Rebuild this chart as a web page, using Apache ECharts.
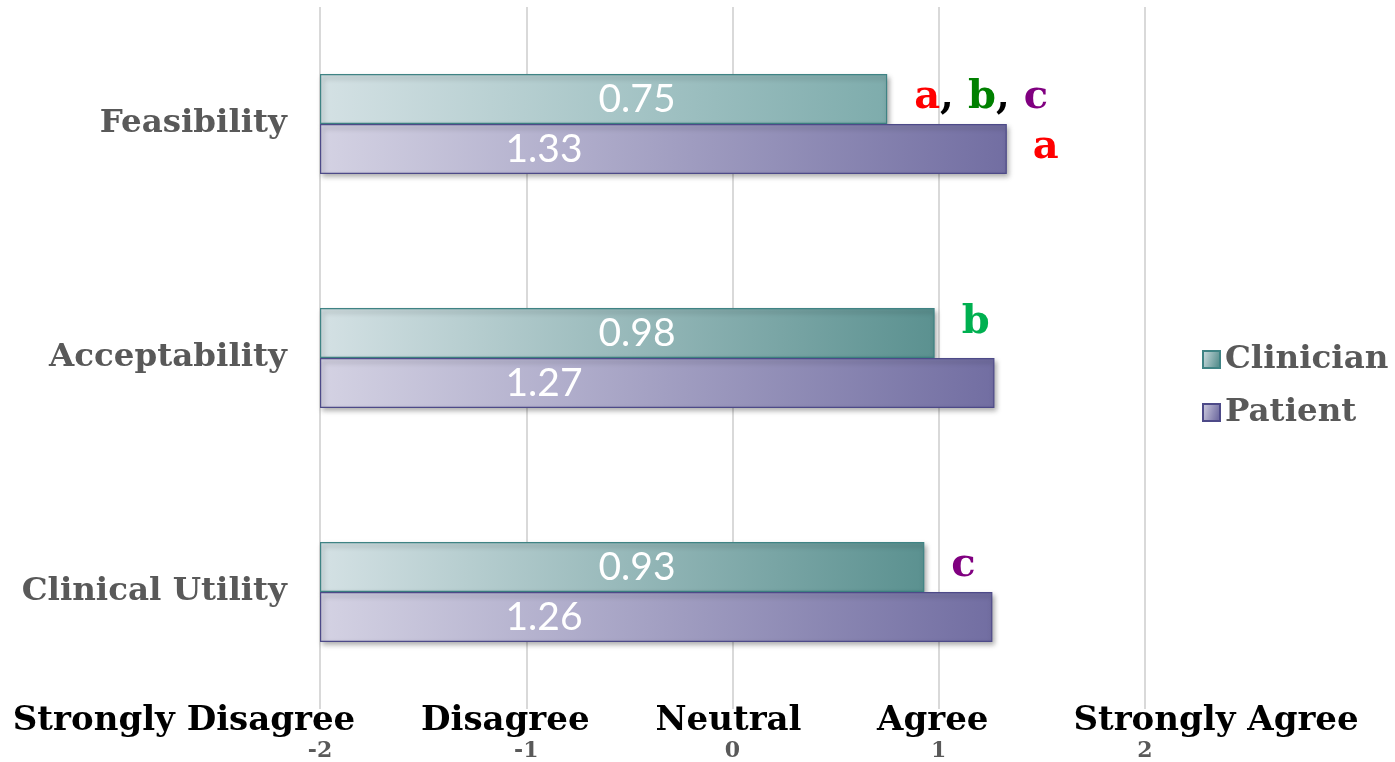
<!DOCTYPE html>
<html><head><meta charset="utf-8">
<script src="https://cdn.jsdelivr.net/npm/echarts@6/dist/echarts.min.js"></script>
<style>html,body{margin:0;padding:0;background:#fff}#c{width:1395px;height:762px}</style>
</head><body><div id="c"></div>
<script>
const categories = ['Feasibility', 'Acceptability', 'Clinical Utility'];
const clinician = [0.75, 0.98, 0.93];
const patient = [1.33, 1.27, 1.26];
const tickValues = [-2, -1, 0, 1, 2];
const tickWords = ['Strongly Disagree', 'Disagree', 'Neutral', 'Agree', 'Strongly Agree'];
const clinicianNotes = ['{r|a}{k|, }{g|b}{k|, }{p|c}', '{g2|b}', '{p|c}'];
const patientNotes = ['{r|a}', '', ''];

const axisMin = -2, axisMax = 2;
const shift = v => v - axisMin;

const serif = '"DejaVu Serif", "Liberation Serif", serif';
const grey = '#595959';

const wordShift = [-136, -21, -4, -6, 71];
const wordRich = {};
tickWords.forEach((w, i) => {
  const s = wordShift[i];
  wordRich['w' + i] = {
    fontFamily: serif, fontWeight: 'bold', fontSize: 34, color: '#000',
    padding: s < 0 ? [0, -2 * s, 0, 0] : [0, 0, 0, 2 * s]
  };
});

const noteRich = {
  r: {color: '#ff0000'}, k: {color: '#000000'}, g: {color: '#008000'},
  g2: {color: '#00b050'}, p: {color: '#800080'}
};
Object.values(noteRich).forEach(o => { o.fontFamily = serif; o.fontWeight = 'bold'; o.fontSize = 40; });

function grad(c0, c1) {
  return {type: 'linear', x: 0, y: 0, x2: 1, y2: 0.3,
    colorStops: [{offset: 0, color: c0}, {offset: 1, color: c1}]};
}
const clinGrad = grad('#d4e1e4', '#5b9190');
const patGrad = grad('#d4d2e3', '#726ea2');

const shadow = {shadowBlur: 5, shadowOffsetX: 2, shadowOffsetY: 3, shadowColor: 'rgba(0,0,0,0.35)'};

const chart = echarts.init(document.getElementById('c'));
chart.setOption({
  animation: false,
  backgroundColor: '#fff',
  grid: {left: 320, right: 250, top: 7, bottom: 52, containLabel: false},
  legend: {
    data: ['Clinician', 'Patient'], orient: 'vertical', left: 1197, top: 338,
    itemWidth: 17, itemHeight: 17, itemGap: 20, icon: 'rect',
    textStyle: {fontFamily: serif, fontWeight: 'bold', fontSize: 32.5, color: grey}
  },
  xAxis: [{
    type: 'value', min: shift(axisMin), max: shift(axisMax), interval: 1,
    axisLine: {show: false}, axisTick: {show: false},
    splitLine: {show: true, lineStyle: {color: '#d9d9d9', width: 2}},
    axisLabel: {margin: 31, fontFamily: serif, fontWeight: 'bold', fontSize: 22, color: grey,
      formatter: v => String(v + axisMin)}
  }, {
    type: 'value', position: 'bottom', min: shift(axisMin), max: shift(axisMax), interval: 1,
    axisLine: {show: false}, axisTick: {show: false}, splitLine: {show: false},
    axisLabel: {margin: -5, rich: wordRich,
      formatter: v => { const i = tickValues.indexOf(v + axisMin); return '{w' + i + '|' + tickWords[i] + '}'; }}
  }],
  yAxis: [{
    type: 'category', data: categories, inverse: true,
    axisLine: {show: false}, axisTick: {show: false}, splitLine: {show: false},
    axisLabel: {margin: 33, fontFamily: serif, fontWeight: 'bold', fontSize: 32.5, color: grey}
  }, {
    type: 'category', data: categories, inverse: true, show: false
  }],
  series: [{
    name: 'Clinician', type: 'bar', barWidth: 50, barGap: 0,
    data: clinician.map((v, i) => i === 0
      ? {value: shift(v), itemStyle: {color: grad('#d4e1e4', '#7eacac')}}
      : shift(v)),
    itemStyle: Object.assign({color: clinGrad, borderColor: '#3f8384', borderWidth: 1.2}, shadow),
    label: {show: true, position: [317, '50%'], align: 'center', verticalAlign: 'middle',
      color: '#fff', fontFamily: 'Lato, "Open Sans", sans-serif', fontSize: 39,
      formatter: p => clinician[p.dataIndex].toFixed(2)},
    emphasis: {disabled: true}
  }, {
    name: 'Patient', type: 'bar', barWidth: 50, barGap: 0,
    data: patient.map(shift),
    itemStyle: Object.assign({color: patGrad, borderColor: '#4d4a88', borderWidth: 1.2}, shadow),
    label: {show: true, position: [224, '50%'], align: 'center', verticalAlign: 'middle',
      color: '#fff', fontFamily: 'Lato, "Open Sans", sans-serif', fontSize: 39,
      formatter: p => patient[p.dataIndex].toFixed(2)},
    emphasis: {disabled: true}
  }, {
    name: 'ClinicianNotes', type: 'bar', yAxisIndex: 1, barWidth: 50, barGap: 0, silent: true,
    data: clinician.map((v, i) => i === 1
      ? {value: shift(v), label: {offset: [0, -10]}}
      : shift(v)),
    itemStyle: {color: 'rgba(0,0,0,0)'},
    label: {show: true, position: 'right', distance: 27, offset: [0, -1], rich: noteRich,
      formatter: p => clinicianNotes[p.dataIndex]},
    emphasis: {disabled: true}
  }, {
    name: 'PatientNotes', type: 'bar', yAxisIndex: 1, barWidth: 50, barGap: 0, silent: true,
    data: patient.map(shift), itemStyle: {color: 'rgba(0,0,0,0)'},
    label: {show: true, position: 'right', distance: 26, offset: [0, -1], rich: noteRich,
      formatter: p => patientNotes[p.dataIndex]},
    emphasis: {disabled: true}
  }]
});
</script>
</body></html>
